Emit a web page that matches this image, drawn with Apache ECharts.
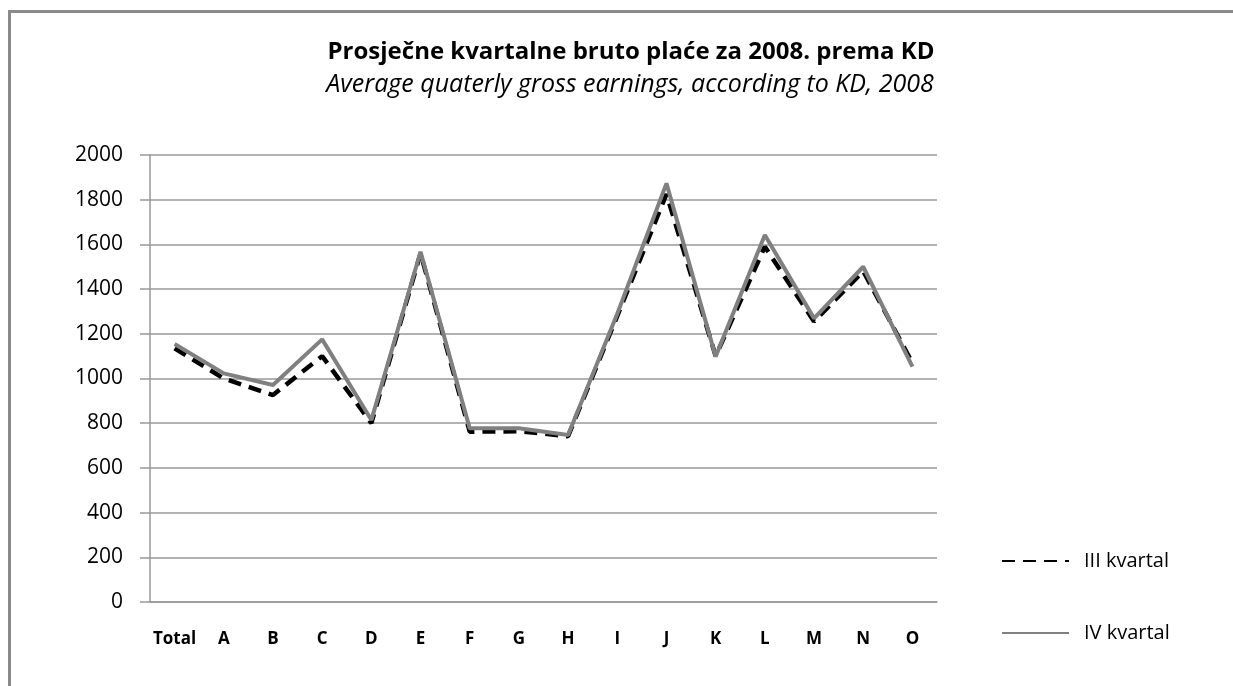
<!DOCTYPE html>
<html>
<head>
<meta charset="utf-8">
<script src="https://cdn.jsdelivr.net/npm/echarts@6/dist/echarts.min.js"></script>
<style>
  html, body { margin: 0; padding: 0; background: #fff; }
  #frame { position: absolute; left: 8px; top: 10px; width: 1240px; height: 700px;
           border-left: 3px solid #8a8a8a; border-top: 3px solid #8a8a8a; }
  #chart { position: absolute; left: 0; top: 0; width: 1233px; height: 686px; }
</style>
</head>
<body>
<div id="frame"></div>
<div id="chart"></div>
<script>
// sections of activity (KD)
const categories = ['Total', 'A', 'B', 'C', 'D', 'E', 'F', 'G', 'H', 'I', 'J', 'K', 'L', 'M', 'N', 'O'];
// average quarterly gross earnings
const kvartal3 = [1135, 1000, 926, 1100, 800, 1560, 762, 764, 742, 1280, 1825, 1100, 1590, 1255, 1480, 1070];
const kvartal4 = [1154, 1023, 971, 1175, 814, 1567, 777, 777, 747, 1290, 1873, 1098, 1642, 1269, 1500, 1053];
const yTicks = { min: 0, max: 2000, step: 200 };

const chart = echarts.init(document.getElementById('chart'));
chart.setOption({
  animation: false,
  textStyle: { fontFamily: 'Open Sans' },
  title: [{
    text: 'Prosječne kvartalne bruto plaće za 2008. prema KD',
    left: 626, top: 35, textAlign: 'center',
    textStyle: { fontSize: 24, fontWeight: 'bold', color: '#000', fontFamily: 'Open Sans' }
  }, {
    text: 'Average quaterly gross earnings, according to KD, 2008',
    left: 625, top: 67, textAlign: 'center',
    textStyle: { fontSize: 25, fontWeight: 'normal', fontStyle: 'italic', color: '#000', fontFamily: 'Open Sans' }
  }],
  legend: {
    orient: 'vertical',
    left: 996, top: 546,
    itemWidth: 67, itemHeight: 22, itemGap: 52,
    itemStyle: { opacity: 0 },
    textStyle: { fontSize: 20, color: '#000', padding: [0, 0, 0, 10] },
    data: ['III kvartal', 'IV kvartal']
  },
  grid: { left: 150, right: 296, top: 155, bottom: 84, containLabel: false },
  xAxis: {
    type: 'category',
    data: categories,
    boundaryGap: true,
    axisLine: { lineStyle: { color: '#999', width: 1.5 } },
    axisTick: { length: 8, lineStyle: { color: '#999', width: 1.5 } },
    axisLabel: { fontSize: 17, color: '#000', margin: 29, fontWeight: 'bold', interval: 0 }
  },
  yAxis: {
    type: 'value',
    min: yTicks.min, max: yTicks.max, interval: yTicks.step,
    axisLine: { show: true, lineStyle: { color: '#999', width: 1.5 } },
    axisTick: { show: true, length: 10, lineStyle: { color: '#999', width: 1.5 } },
    axisLabel: { fontSize: 21, color: '#000', margin: 27, formatter: v => String(v) },
    splitLine: { lineStyle: { color: '#999', width: 1.5 } }
  },
  series: [{
    name: 'III kvartal',
    type: 'line',
    data: kvartal3,
    symbol: 'none',
    lineStyle: { color: '#000', width: 4.5, type: [13, 8] },
    itemStyle: { color: '#000' }
  }, {
    name: 'IV kvartal',
    type: 'line',
    data: kvartal4,
    symbol: 'none',
    lineStyle: { color: '#808080', width: 4, type: 'solid' },
    itemStyle: { color: '#808080' }
  }]
});
</script>
</body>
</html>
